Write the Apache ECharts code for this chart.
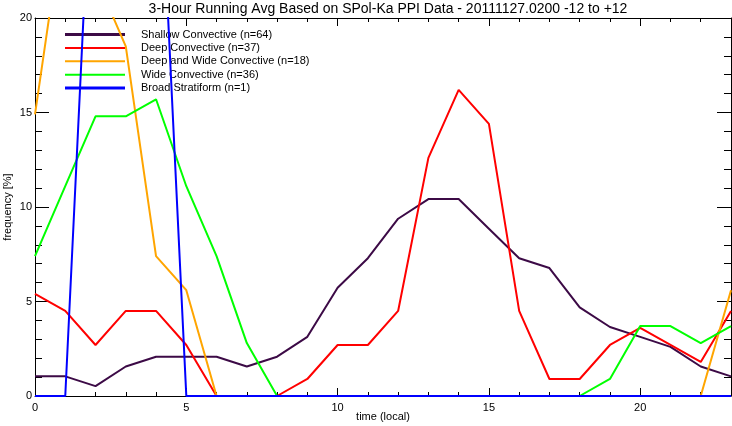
<!DOCTYPE html>
<html>
<head>
<meta charset="utf-8">
<script src="https://cdn.jsdelivr.net/npm/echarts@6/dist/echarts.min.js"></script>
<style>html,body{margin:0;padding:0;background:#fff}#c{width:732px;height:426px}</style>
</head>
<body>
<div id="c"></div>
<script>
const hours = [0,1,2,3,4,5,6,7,8,9,10,11,12,13,14,15,16,17,18,19,20,21,22,23];
const seriesNames = ['Shallow Convective (n=64)','Deep Convective (n=37)','Deep and Wide Convective (n=18)','Wide Convective (n=36)','Broad Stratiform (n=1)'];
const shallow = [1.04,1.04,0.52,1.56,2.08,2.08,2.08,1.56,2.08,3.13,5.73,7.29,9.38,10.42,10.42,8.85,7.29,6.77,4.69,3.65,3.13,2.60,1.56,1.04];
const deep = [5.4,4.5,2.7,4.5,4.5,2.7,0,0,0,0.9,2.7,2.7,4.5,12.6,16.2,14.4,4.5,0.9,0.9,2.7,3.6,2.7,1.8,4.5];
const deepWide = [14.9,25.9,22.2,18.5,7.4,5.6,0,0,0,0,0,0,0,0,0,0,0,0,0,0,0,0,0,5.6];
const wide = [7.4,11.1,14.8,14.8,15.7,11.1,7.4,2.8,0,0,0,0,0,0,0,0,0,0,0,0.9,3.7,3.7,2.8,3.7];
const broad = [0,0,33.3,33.3,33.3,0,0,0,0,0,0,0,0,0,0,0,0,0,0,0,0,0,0,0];
const xTicks = [0,5,10,15,20];
const yTicks = [0,5,10,15,20];

const colors = ['#3c0a46','#ff0000','#ffa500','#00ff00','#0000ff'];
const allData = [shallow, deep, deepWide, wide, broad];
const font = 'Liberation Sans, Arial, Helvetica, sans-serif';

const chart = echarts.init(document.getElementById('c'));
const series = allData.map((arr, i) => ({
  name: seriesNames[i],
  type: 'line',
  data: hours.map((h, j) => [h, arr[j]]),
  showSymbol: false,
  symbol: 'none',
  lineStyle: { color: colors[i], width: 2 },
  itemStyle: { color: colors[i] },
  animation: false,
  z: 2 + i
}));

const xAxisBase = {
  type: 'value', min: 0, max: 23, interval: 5,
  axisLine: { show: true, onZero: false, lineStyle: { color: '#000', width: 1 } },
  axisTick: { show: true, inside: true, length: 8, lineStyle: { color: '#000' } },
  minorTick: { show: true, splitNumber: 5, length: 4, lineStyle: { color: '#000' } },
  splitLine: { show: false }
};
const yAxisBase = {
  type: 'value', min: 0, max: 20, interval: 5,
  axisLine: { show: true, onZero: false, lineStyle: { color: '#000', width: 1 } },
  axisTick: { show: true, inside: true, length: 14, lineStyle: { color: '#000' } },
  minorTick: { show: true, splitNumber: 5, length: 7, lineStyle: { color: '#000' } },
  splitLine: { show: false }
};

chart.setOption({
  animation: false,
  backgroundColor: '#fff',
  title: {
    text: '3-Hour Running Avg Based on SPol-Ka PPI Data - 20111127.0200 -12 to +12',
    left: 383, textAlign: 'center', top: -3,
    textStyle: { fontFamily: font, fontSize: 14, fontWeight: 'normal', color: '#000' }
  },
  legend: {
    orient: 'vertical', left: 60, top: 24,
    itemWidth: 60, itemHeight: 12, itemGap: 2.4,
    data: seriesNames.map((n, i) => ({ name: n, icon: 'path://M0,0 L60,0 L60,' + (i === 0 || i === 4 ? 3 : 2) + ' L0,' + (i === 0 || i === 4 ? 3 : 2) + ' Z', itemStyle: { color: colors[i] } })),
    textStyle: { fontFamily: font, fontSize: 11, color: '#000', padding: [0, 0, 0, 11] },
    selectedMode: false
  },
  grid: { left: 35, right: 1, top: 18, bottom: 30, containLabel: false, outerBoundsMode: 'none' },
  xAxis: [
    Object.assign({}, xAxisBase, {
      position: 'bottom',
      name: 'time (local)', nameLocation: 'middle', nameGap: 15, nameMoveOverlap: false,
      nameTextStyle: { fontFamily: font, fontSize: 11, color: '#000' },
      axisLabel: { show: true, margin: 6, color: '#000', fontFamily: font, fontSize: 11,
        formatter: v => xTicks.indexOf(v) >= 0 ? String(v) : '' }
    }),
    Object.assign({}, xAxisBase, { position: 'top', axisLabel: { show: false } })
  ],
  yAxis: [
    Object.assign({}, yAxisBase, {
      position: 'left',
      name: 'frequency [%]', nameLocation: 'middle', nameGap: 22, nameRotate: 90, nameMoveOverlap: false,
      nameTextStyle: { fontFamily: font, fontSize: 11, color: '#000' },
      axisLabel: { show: true, margin: 3, color: '#000', fontFamily: font, fontSize: 11,
        formatter: v => yTicks.indexOf(v) >= 0 ? String(v) : '' }
    }),
    Object.assign({}, yAxisBase, { position: 'right', axisLabel: { show: false } })
  ],
  series: series
});
</script>
</body>
</html>
